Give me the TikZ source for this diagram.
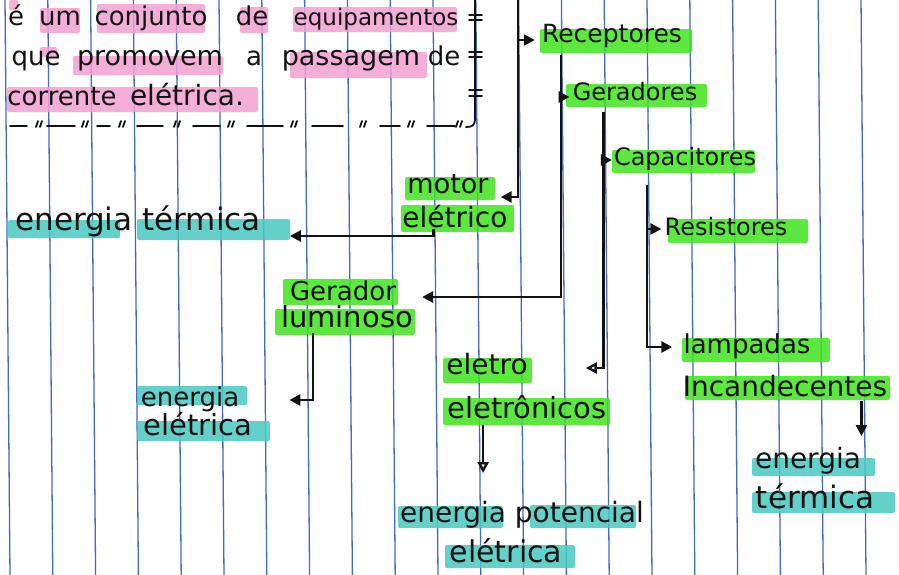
\documentclass[tikz,border=0pt]{standalone}
\usepackage{fontspec}
\setmainfont{DejaVu Sans}
\usetikzlibrary{arrows.meta,calc}
\definecolor{rulec}{RGB}{66,104,205}
\definecolor{hlg}{RGB}{64,228,30}
\definecolor{hlc}{RGB}{72,202,192}
\definecolor{hlp}{RGB}{244,160,210}
\definecolor{ink}{RGB}{18,18,18}
\begin{document}
\begin{tikzpicture}[x=1pt,y=-1pt,
  hw/.style={inner sep=0pt, anchor=base, text=ink, font=\fontsize{#1}{#1}\selectfont},
  conn/.style={draw=ink, line width=2.6pt, -{Triangle[length=11pt,width=11pt]}},
  connopen/.style={draw=ink, line width=2.4pt, -{Triangle[open,length=11pt,width=11pt]}},
  pen/.style={draw=ink, line width=1.8pt, line cap=round},
  band/.style={rounded corners=2pt, fill opacity=0.85}]
\useasboundingbox (0,0) rectangle (899,574);
\fill[white] (0,0) rectangle (899,574);
% vertical rulings
\foreach \i in {0,...,20} {\draw[rulec, line width=1.3pt] ({5+42.8*\i},-2) -- ({10+42.8*\i},576);}
% pink highlights
\fill[hlp,band] (9,0) rectangle (18,10);
\fill[hlp,band] (40,8) rectangle (80,33);
\fill[hlp,band] (97,4) rectangle (205,33);
\fill[hlp,band] (240,7) rectangle (268,33);
\fill[hlp,band] (293,7) rectangle (457,32);
\fill[hlp,band] (40,47) rectangle (57,57);
\fill[hlp,band] (73,56) rectangle (223,75);
\fill[hlp,band] (290,52) rectangle (427,78);
\fill[hlp,band] (7,87) rectangle (258,112);
% green highlights
\fill[hlg,band] (540,29) rectangle (692,53);
\fill[hlg,band] (566,84) rectangle (707,107);
\fill[hlg,band] (612,150) rectangle (755,173);
\fill[hlg,band] (668,219) rectangle (808,243);
\fill[hlg,band] (682,338) rectangle (830,362);
\fill[hlg,band] (685,376) rectangle (890,400);
\fill[hlg,band] (405,177) rectangle (495,200);
\fill[hlg,band] (401,205) rectangle (514,232);
\fill[hlg,band] (283,279) rectangle (398,305);
\fill[hlg,band] (275,309) rectangle (415,335);
\fill[hlg,band] (443,358) rectangle (532,383);
\fill[hlg,band] (443,398) rectangle (610,425);
% cyan highlights
\fill[hlc,band] (8,220) rectangle (120,238);
\fill[hlc,band] (137,219) rectangle (290,240);
\fill[hlc,band] (137,386) rectangle (247,405);
\fill[hlc,band] (137,421) rectangle (270,441);
\fill[hlc,band] (398,506) rectangle (503,528);
\fill[hlc,band] (530,505) rectangle (636,528);
\fill[hlc,band] (445,545) rectangle (575,568);
\fill[hlc,band] (752,458) rectangle (875,476);
\fill[hlc,band] (752,492) rectangle (895,513);
% top text
\node[hw=26] (w1) at (16,25) {é};
\node[hw=26] (w2) at (60,25) {um};
\node[hw=26] (w3) at (151,25) {conjunto};
\node[hw=26] (w4) at (252,25) {de};
\node[hw=23] (w5) at (376,25) {equipamentos};
\node[hw=26] (w6) at (36,65) {que};
\node[hw=27] (w7) at (150,65) {promovem};
\node[hw=26] (w8) at (254,65) {a};
\node[hw=27] (w9) at (351,65) {passagem};
\node[hw=26] (w10) at (444,65) {de};
\node[hw=26] (w11) at (62,105) {corrente};
\node[hw=28] (w12) at (187,105) {elétrica.};
% bracket and separator
\draw[pen] (475,-2) -- (475,118) .. controls (475,126) and (472,127) .. (466,127);
\draw[pen] (469,15) -- (482,15) (469,20) -- (482,20);
\draw[pen] (469,52) -- (482,52) (469,57) -- (482,57);
\draw[pen] (469,90) -- (482,90) (469,96) -- (482,96);
\foreach \a/\b in {10/27,47/75,97/110,137/163,193/220,247/283,312/343,380/400,427/455} {\draw[pen] (\a,126) -- (\b,126);}
\foreach \t in {38,84,121,176,230,293,362,410,458} {\draw[pen] ({\t-2},127) -- ({\t},121); \draw[pen] ({\t+2},127) -- ({\t+4},121);}
% nodes
\node[hw=25] (rec) at (612,42) {Receptores};
\node[hw=24] (ger) at (635,100) {Geradores};
\node[hw=24] (cap) at (685,165) {Capacitores};
\node[hw=24] (res) at (726,235) {Resistores};
\node[hw=26] (lam) at (747,353) {lampadas};
\node[hw=28] (inc) at (785,396) {Incandecentes};
\node[hw=27] (motor) at (448,193) {motor};
\node[hw=28] (eletrico) at (455,227) {elétrico};
\node[hw=31] (et1) at (138,230) {energia térmica};
\node[hw=26] (gerl) at (343,300) {Gerador};
\node[hw=29] (lum) at (347,327) {luminoso};
\node[hw=26] (ee1) at (190,406) {energia};
\node[hw=29] (ee2) at (198,435) {elétrica};
\node[hw=28] (el1) at (487,374) {eletro};
\node[hw=29] (el2) at (527,418) {eletrônicos};
\node[hw=28] (ep1) at (522,522) {energia potencial};
\node[hw=30] (ep2) at (506,562) {elétrica};
\node[hw=28] (et2a) at (808,468) {energia};
\node[hw=31] (et2b) at (815,508) {térmica};
% connector coordinates
\coordinate (aTop) at (518,-2);
\coordinate (recIn) at ($(rec.base west)+(-7,-2)$);
\coordinate (bTop) at ($(rec.base west)+(19,13)$);
\coordinate (gerIn) at ($(ger.base west)+(-3,-3)$);
\coordinate (gerlIn) at ($(gerl.base east)+(26,-3)$);
\coordinate (cTop) at ($(ger.base west)+(31,12)$);
\coordinate (capIn) at ($(cap.base west)+(-2,-5)$);
\coordinate (elIn) at ($(el1.base east)+(58,-6)$);
\coordinate (dTop) at ($(cap.base west)+(33,20)$);
\coordinate (resIn) at ($(res.base west)+(-3,-6)$);
\coordinate (lamIn) at ($(lam.base west)+(-11,-6)$);
\coordinate (eTop) at ($(eletrico.base west)+(31,2)$);
\coordinate (etIn) at ($(et1.base east)+(29,6)$);
\coordinate (fTop) at ($(lum.base west)+(32,6)$);
\coordinate (eeIn) at ($(ee1.base east)+(50,-6)$);
\coordinate (gTop) at ($(el2.base west)+(36,7)$);
\coordinate (hTop) at ($(inc.base east)+(-26,5)$);
% connectors
\draw[conn] (aTop) |- ($(motor.base east)+(12,4)$);
\draw[conn] (aTop |- recIn) -- (recIn);
\draw[conn] (bTop) |- (gerlIn);
\draw[conn] (bTop |- gerIn) -- (gerIn);
\draw[connopen] (cTop) |- (elIn);
\draw[conn] (cTop |- capIn) -- (capIn);
\draw[conn] (dTop) |- (lamIn);
\draw[conn] (dTop |- resIn) -- (resIn);
\draw[conn] (eTop) |- (etIn);
\draw[conn] (fTop) |- (eeIn);
\draw[connopen] (gTop) -- ++(0,48);
\draw[conn] (hTop) -- ++(0,35);
\end{tikzpicture}
\end{document}
